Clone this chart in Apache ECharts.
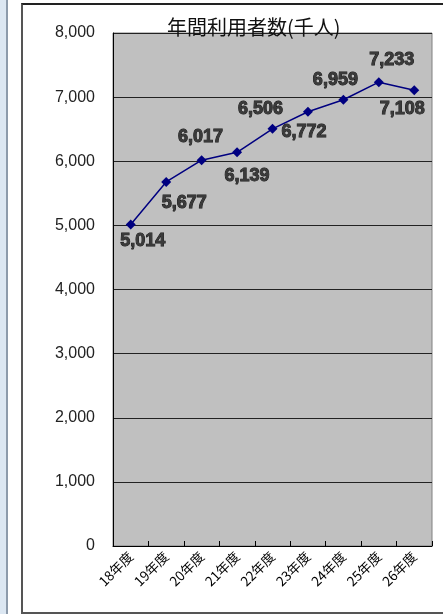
<!DOCTYPE html>
<html>
<head>
<meta charset="utf-8">
<script src="https://cdn.jsdelivr.net/npm/echarts@6/dist/echarts.min.js"></script>
<style>
html,body{margin:0;padding:0;background:#fff;width:443px;height:614px;overflow:hidden;}
#strip{position:absolute;left:0;top:0;width:6px;height:614px;background:#dce7f2;}
#stripLine{position:absolute;left:6px;top:0;width:2px;height:614px;background:#8d9bab;}
#frame{position:absolute;left:21px;top:3px;width:430px;height:607px;border-top:2px solid #222;border-left:2px solid #555;border-bottom:2px solid #555;}
#chart{position:absolute;left:0;top:0;width:443px;height:614px;}
</style>
</head>
<body>
<div id="strip"></div><div id="stripLine"></div><div id="frame"></div>
<div id="chart"></div>
<script>
const categories = ['18年度','19年度','20年度','21年度','22年度','23年度','24年度','25年度','26年度'];
const users = [5014, 5677, 6017, 6139, 6506, 6772, 6959, 7233, 7108];
const yTicks = [0, 1000, 2000, 3000, 4000, 5000, 6000, 7000, 8000];
const titleText = '年間利用者数(千人)';

const labelOffsets = [[12,17],[18,21],[-1,-23],[10,24],[-12,-20],[-4,20],[-8,-20],[13,-22],[-12,19]];
const fmt = v => String(v).replace(/\B(?=(\d{3})+(?!\d))/g, ',');

const chart = echarts.init(document.getElementById('chart'));
chart.setOption({
  animation: false,
  backgroundColor: 'transparent',
  title: {
    text: titleText, left: 162, top: 12,
    textStyle: {fontFamily: 'Noto Sans CJK JP', fontSize: 20, fontWeight: 'normal', color: '#111'}
  },
  grid: {left: 113, top: 33, width: 319, height: 513, show: true, backgroundColor: '#c0c0c0', borderColor: '#808080', borderWidth: 1},
  xAxis: {
    type: 'category', data: categories, boundaryGap: true,
    axisLine: {lineStyle: {color: '#000', width: 1}},
    axisTick: {show: true, inside: true, length: 5, lineStyle: {color: '#000'}},
    axisLabel: {rotate: 45, fontSize: 13.5, color: '#000', margin: 8, fontFamily: 'Noto Sans CJK JP', interval: 0}
  },
  yAxis: {
    type: 'value', min: yTicks[0], max: yTicks[yTicks.length-1], interval: yTicks[1]-yTicks[0],
    axisLine: {show: true, lineStyle: {color: '#000', width: 1}},
    axisTick: {show: false},
    splitLine: {lineStyle: {color: '#222', width: 1}},
    axisLabel: {fontSize: 16, color: '#222', margin: 18, fontFamily: 'Liberation Sans', formatter: v => fmt(v)}
  },
  series: [{
    type: 'line', data: users.map((v, i) => ({
      value: v,
      label: {offset: labelOffsets[i]}
    })),
    lineStyle: {color: '#000080', width: 1.5},
    itemStyle: {color: '#000080'},
    symbol: 'diamond', symbolSize: 10,
    label: {
      show: true, position: 'inside', formatter: p => fmt(p.value),
      fontFamily: 'Liberation Sans', fontWeight: 'bold', fontSize: 18,
      color: '#3a3a3a', textBorderColor: '#111', textBorderWidth: 0.9
    }
  }]
});
</script>
</body>
</html>
